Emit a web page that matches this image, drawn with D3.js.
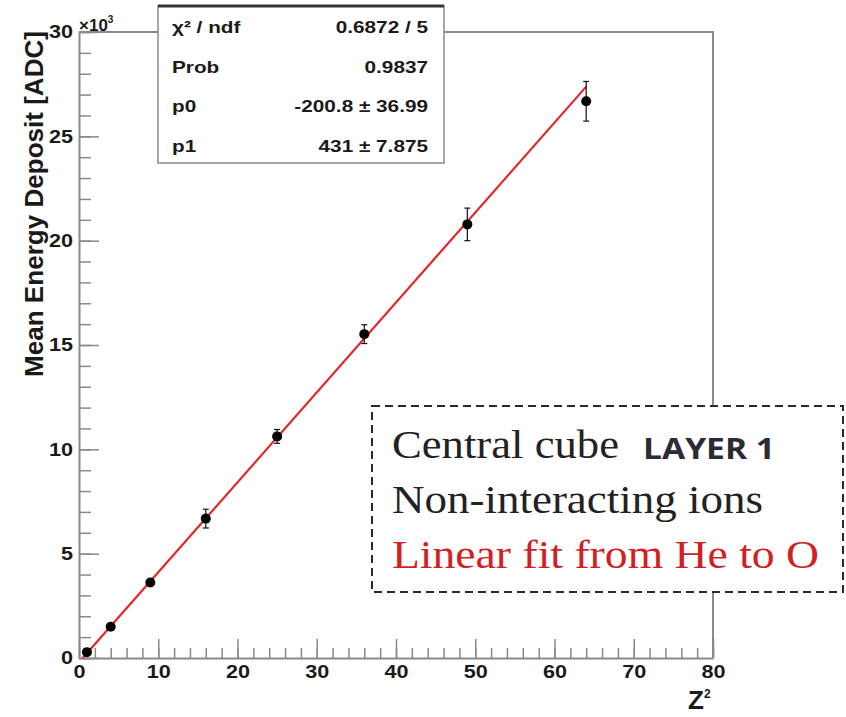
<!DOCTYPE html>
<html>
<head>
<meta charset="utf-8">
<script src="https://cdn.jsdelivr.net/npm/d3@7"></script>
<style>
  body { margin: 0; background: #fff; }
  svg { display: block; }
</style>
</head>
<body>
<div id="chart"></div>
<script>
// data
const zSquared = [1, 4, 9, 16, 25, 36, 49, 64];
const meanDeposit = [280, 1500, 3620, 6680, 10620, 15520, 20780, 26680];
const depositError = [120, 150, 150, 450, 330, 450, 780, 950];
const fitParams = [-200.8, 431];   // p0, p1
const fitEnd = 64;
const xTicks = [0, 10, 20, 30, 40, 50, 60, 70, 80];
const yTicks = [0, 5000, 10000, 15000, 20000, 25000, 30000];
const statsNames = ['χ² / ndf', 'Prob', 'p0', 'p1'];
const statsValues = ['0.6872 / 5', '0.9837', '-200.8 ± 36.99', '431 ± 7.875'];
const noteLines = ['Central cube', 'Non-interacting ions', 'Linear fit from He to O'];
const noteTag = 'LAYER 1';

const width = 846;
const height = 717;
const frameColor = '#8a8a8a';
const sans = '"Liberation Sans", Arial, sans-serif';

const svg = d3.select('#chart')
  .append('svg')
  .attr('width', width)
  .attr('height', height);

const x = d3.scaleLinear().domain([0, 80]).range([79, 713]);
const y = d3.scaleLinear().domain([0, 30000]).range([658, 32]);

// the picture is a bit wider than tall, text is stretched sideways
function stretch(sel, k) {
  sel.each(function () {
    const w = this.getComputedTextLength();
    d3.select(this)
      .attr('textLength', w * k)
      .attr('lengthAdjust', 'spacingAndGlyphs');
  });
}

// top and right frame
svg.append('path')
  .attr('d', `M${x(0)},${y(30000)}H${x(80)}V${y(0)}`)
  .attr('fill', 'none')
  .attr('stroke', frameColor)
  .attr('stroke-width', 2);

// minor ticks
svg.append('g')
  .attr('transform', `translate(${x(0)},0)`)
  .call(d3.axisLeft(y).tickValues(d3.range(0, 30001, 1000)).tickSize(-12).tickFormat(''))
  .call(g => g.select('.domain').remove())
  .selectAll('line').attr('stroke', frameColor).attr('stroke-width', 1.5);

svg.append('g')
  .attr('transform', `translate(0,${y(0)})`)
  .call(d3.axisBottom(x).tickValues(d3.range(0, 81, 2)).tickSize(-10).tickFormat(''))
  .call(g => g.select('.domain').remove())
  .selectAll('line').attr('stroke', frameColor).attr('stroke-width', 1.5);

// major ticks + labels
const axisY = svg.append('g')
  .attr('transform', `translate(${x(0)},0)`)
  .call(d3.axisLeft(y).tickValues(yTicks).tickSize(-20).tickSizeOuter(0).tickPadding(6)
    .tickFormat(d => d / 1000));

const axisX = svg.append('g')
  .attr('transform', `translate(0,${y(0)})`)
  .call(d3.axisBottom(x).tickValues(xTicks).tickSize(-19).tickSizeOuter(0).tickPadding(7));

[axisY, axisX].forEach(g => {
  g.select('.domain').attr('stroke', frameColor).attr('stroke-width', 2);
  g.selectAll('line').attr('stroke', frameColor).attr('stroke-width', 1.5);
  g.selectAll('text')
    .attr('font-family', sans)
    .attr('font-weight', 'bold')
    .attr('font-size', 18)
    .attr('fill', '#1a1a1a')
    .call(stretch, 1.2);
});

// x10^3
const expo = svg.append('text')
  .attr('x', x(0))
  .attr('y', 31)
  .attr('font-family', sans)
  .attr('font-weight', 'bold')
  .attr('font-size', 17)
  .attr('fill', '#1a1a1a');
expo.append('tspan').text('×10');
expo.append('tspan').attr('dy', -8).attr('font-size', 10).text('3');

// axis titles
svg.append('text')
  .attr('transform', 'translate(43,204) rotate(-90)')
  .attr('text-anchor', 'middle')
  .attr('font-family', sans)
  .attr('font-weight', 'bold')
  .attr('font-size', 25)
  .attr('fill', '#1a1a1a')
  .attr('textLength', 346)
  .attr('lengthAdjust', 'spacingAndGlyphs')
  .text('Mean Energy Deposit [ADC]');

const zTitle = svg.append('text')
  .attr('x', 688)
  .attr('y', 709)
  .attr('font-family', sans)
  .attr('font-weight', 'bold')
  .attr('font-size', 26)
  .attr('fill', '#1a1a1a');
zTitle.append('tspan').text('Z');
zTitle.append('tspan').attr('dy', -11).attr('font-size', 12).text('2');

// fit line
const fitStart = -fitParams[0] / fitParams[1];
const fitLine = d3.line()
  .x(d => x(d))
  .y(d => y(fitParams[0] + fitParams[1] * d));

svg.append('path')
  .attr('d', fitLine([fitStart, fitEnd]))
  .attr('fill', 'none')
  .attr('stroke', '#e3262b')
  .attr('stroke-width', 2.2);

// data points with error bars
const points = zSquared.map((z, i) => ({ z, v: meanDeposit[i], e: depositError[i] }));

const bars = svg.append('g').attr('stroke', '#111').attr('stroke-width', 1.2);
bars.selectAll('.err')
  .data(points)
  .enter()
  .append('line')
  .attr('x1', d => x(d.z))
  .attr('x2', d => x(d.z))
  .attr('y1', d => y(d.v - d.e))
  .attr('y2', d => y(d.v + d.e));
bars.selectAll('.capTop')
  .data(points)
  .enter()
  .append('line')
  .attr('x1', d => x(d.z) - 3)
  .attr('x2', d => x(d.z) + 3)
  .attr('y1', d => y(d.v + d.e))
  .attr('y2', d => y(d.v + d.e));
bars.selectAll('.capBottom')
  .data(points)
  .enter()
  .append('line')
  .attr('x1', d => x(d.z) - 3)
  .attr('x2', d => x(d.z) + 3)
  .attr('y1', d => y(d.v - d.e))
  .attr('y2', d => y(d.v - d.e));

svg.append('g')
  .selectAll('circle')
  .data(points)
  .enter()
  .append('circle')
  .attr('cx', d => x(d.z))
  .attr('cy', d => y(d.v))
  .attr('r', 5)
  .attr('fill', '#000');

// stats box
const stats = svg.append('g');
stats.append('rect')
  .attr('x', 158).attr('y', 6)
  .attr('width', 286).attr('height', 157)
  .attr('fill', '#fff')
  .attr('stroke', '#8a8a8a')
  .attr('stroke-width', 1.5);
stats.append('line')
  .attr('x1', 158).attr('x2', 444)
  .attr('y1', 6).attr('y2', 6)
  .attr('stroke', '#333')
  .attr('stroke-width', 3);

const rowY = d3.scalePoint().domain(d3.range(statsNames.length)).range([33, 152]);

stats.selectAll('.sname')
  .data(statsNames)
  .enter()
  .append('text')
  .attr('x', 172)
  .attr('y', (d, i) => rowY(i))
  .text(d => d);
stats.selectAll('.sval')
  .data(statsValues)
  .enter()
  .append('text')
  .attr('x', 428)
  .attr('y', (d, i) => rowY(i))
  .attr('text-anchor', 'end')
  .text(d => d);
stats.selectAll('text')
  .attr('font-family', sans)
  .attr('font-weight', 'bold')
  .attr('font-size', 17)
  .attr('fill', '#1a1a1a')
  .call(stretch, 1.22);

// note box
const note = svg.append('g');
note.append('rect')
  .attr('x', 372).attr('y', 406)
  .attr('width', 471).attr('height', 186)
  .attr('fill', '#fff')
  .attr('stroke', '#2a2a2a')
  .attr('stroke-width', 2)
  .attr('stroke-dasharray', '8,5');

const noteWidths = [227, 371, 427];
const noteBase = [458, 513, 568];
note.selectAll('.line')
  .data(noteLines)
  .enter()
  .append('text')
  .attr('x', 392)
  .attr('y', (d, i) => noteBase[i])
  .attr('font-family', '"Liberation Serif", "Times New Roman", serif')
  .attr('font-size', 39)
  .attr('fill', (d, i) => i === 2 ? '#d11f24' : '#222')
  .attr('textLength', (d, i) => noteWidths[i])
  .attr('lengthAdjust', 'spacingAndGlyphs')
  .text(d => d);

note.append('text')
  .attr('x', 643)
  .attr('y', 459)
  .attr('font-family', '"Open Sans", sans-serif')
  .attr('font-weight', 'bold')
  .attr('font-size', 28)
  .attr('fill', '#2b2b36')
  .attr('textLength', 132)
  .attr('lengthAdjust', 'spacingAndGlyphs')
  .text(noteTag);
</script>
</body>
</html>
